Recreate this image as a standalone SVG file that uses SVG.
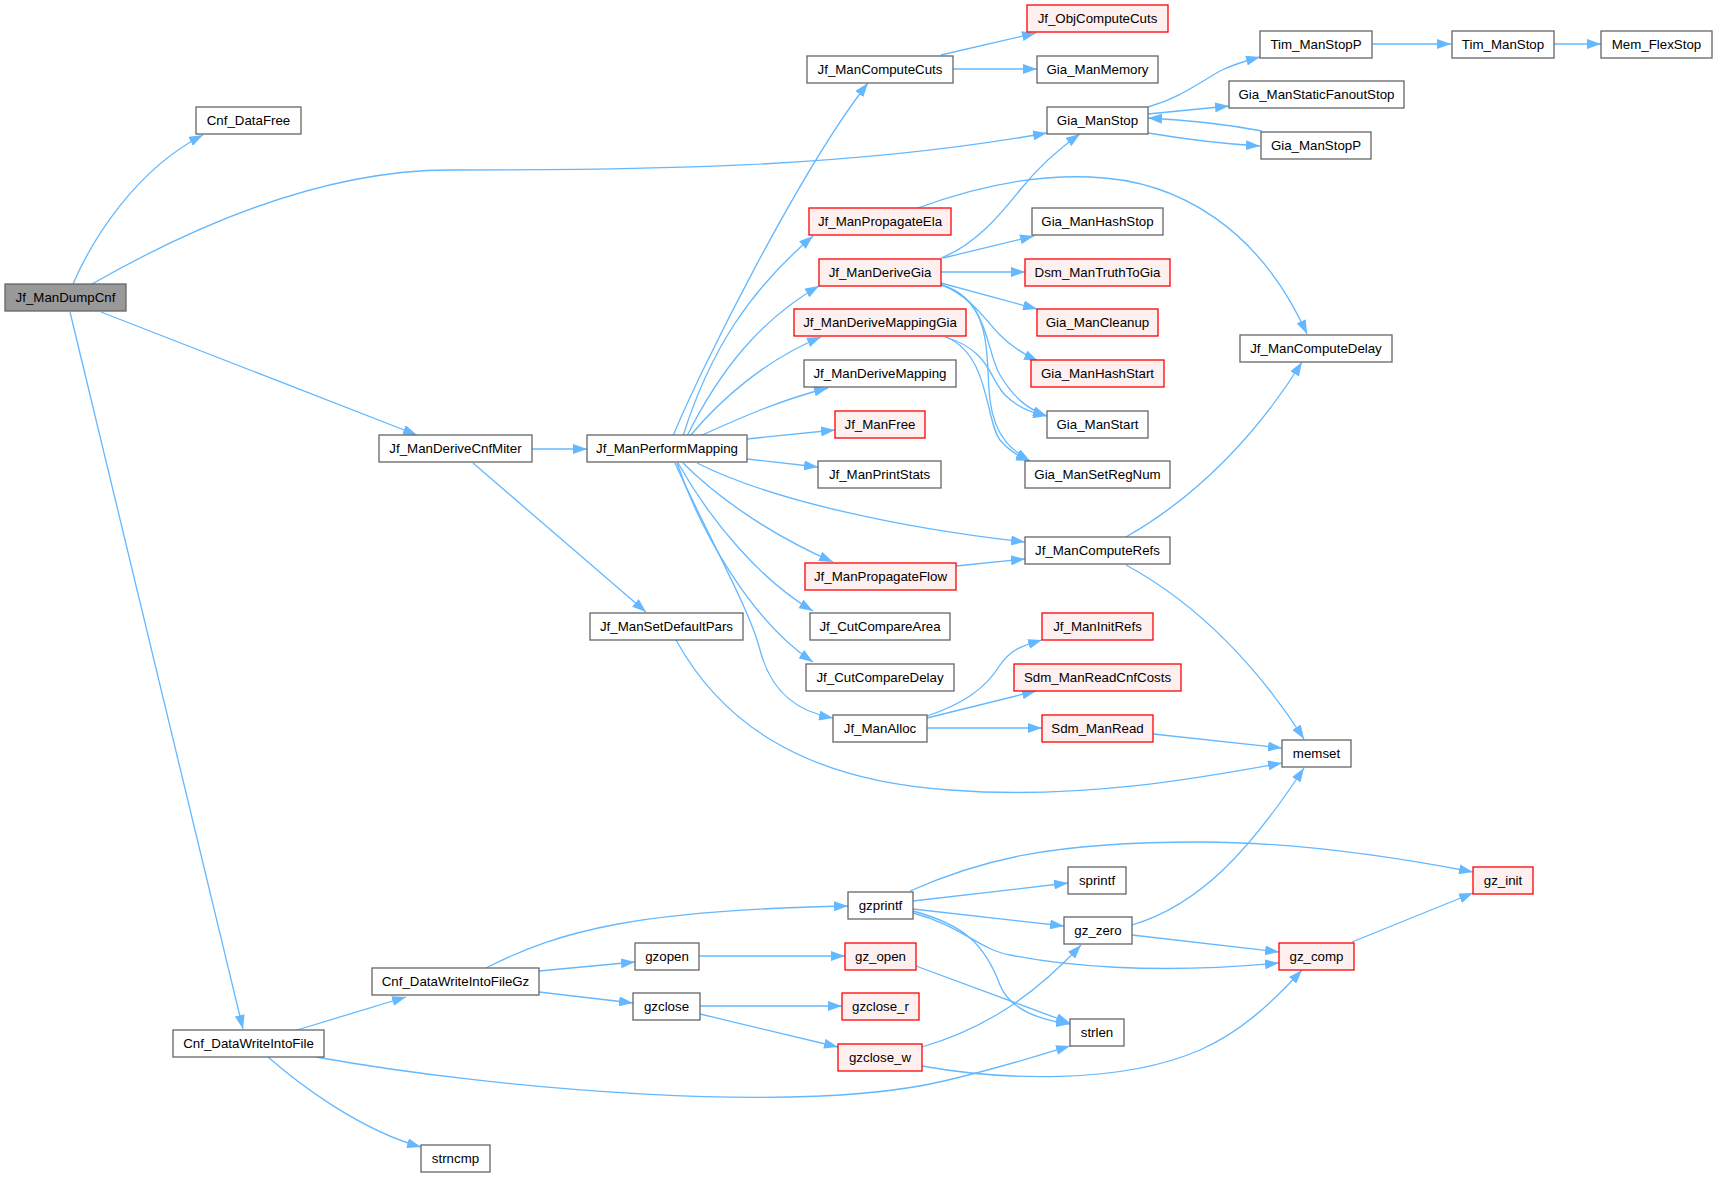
<svg xmlns="http://www.w3.org/2000/svg" width="1717" height="1177" viewBox="0 0 1717 1177">
<defs>
<marker id="ah" markerUnits="userSpaceOnUse" markerWidth="14" markerHeight="10" viewBox="0 0 14 10" refX="14" refY="5" orient="auto">
<path d="M0,0 L14,5 L0,10 z" fill="#63b8ff"/>
</marker>
<style>
.n rect{fill:#ffffff;stroke:#666666;stroke-width:1.3}
.r rect{fill:#fff0f0;stroke:#ff0000;stroke-width:1.3}
.root rect{fill:#999999;stroke:#666666;stroke-width:1.3}
text{font-family:"Liberation Sans",Arial,sans-serif;font-size:13.3px;fill:#000;text-anchor:middle}
#edges path{fill:none;stroke:#63b8ff;stroke-width:1.3;marker-end:url(#ah)}
</style>
</defs>
<rect x="0" y="0" width="1717" height="1177" fill="#ffffff"/>
<g id="edges">
<path d="M73,284 C92,240 135,170 203,135"/>
<path d="M92,284 C190,228 320,170 450,170 C650,170 850,168 1047,133"/>
<path d="M101,312 L417,435"/>
<path d="M70,312 L243,1029"/>
<path d="M532,449 L587,449"/>
<path d="M473,463 L646,612"/>
<path d="M673,436 C700,370 800,170 868,83"/>
<path d="M683,436 C710,350 750,290 813,236"/>
<path d="M687,436 C720,370 760,320 819,286"/>
<path d="M690,436 C720,400 765,360 821,337"/>
<path d="M700,436 C740,418 780,400 828,388"/>
<path d="M747,439 L835,430"/>
<path d="M747,459 L818,467"/>
<path d="M697,463 C770,500 900,528 1025,542"/>
<path d="M683,463 C710,490 760,530 833,562"/>
<path d="M678,463 C710,520 760,580 813,611"/>
<path d="M677,463 C700,530 750,620 813,662"/>
<path d="M675,463 C710,540 750,610 760,650 C772,695 800,712 833,718"/>
<path d="M941,55 L1036,33"/>
<path d="M953,69 L1037,69"/>
<path d="M1148,107 C1180,98 1200,82 1222,70 C1235,64 1245,61 1260,57"/>
<path d="M1148,114 L1229,106"/>
<path d="M1148,133 C1190,140 1225,144 1260,146"/>
<path d="M1262,131 C1230,125 1190,120 1148,118"/>
<path d="M1372,44 L1451,44"/>
<path d="M1554,44 L1601,44"/>
<path d="M918,208 C980,185 1040,175 1090,177 C1180,180 1260,230 1307,334"/>
<path d="M941,258 C975,245 1000,215 1020,190 C1040,165 1060,148 1080,134"/>
<path d="M943,258 L1034,236"/>
<path d="M941,272 L1025,272"/>
<path d="M941,283 L1037,309"/>
<path d="M941,284 C975,300 985,320 1000,335 C1012,347 1025,355 1038,361"/>
<path d="M941,285 C990,300 985,350 1000,375 C1015,400 1030,410 1047,416"/>
<path d="M945,337 C990,350 990,380 1005,395 C1018,408 1032,413 1047,416"/>
<path d="M941,285 C995,300 985,360 990,400 C995,440 1015,452 1030,461"/>
<path d="M946,337 C990,355 985,420 1000,440 C1010,452 1020,457 1030,461"/>
<path d="M1126,537 C1200,495 1260,430 1302,362"/>
<path d="M1126,565 C1200,605 1260,670 1304,739"/>
<path d="M956,566 L1025,559"/>
<path d="M676,640 C720,720 800,780 950,790 C1080,800 1200,778 1282,763"/>
<path d="M927,716 C960,705 985,690 1000,665 C1012,648 1025,645 1042,640"/>
<path d="M927,718 L1036,691"/>
<path d="M927,728 L1042,728"/>
<path d="M1153,734 L1282,748"/>
<path d="M297,1030 L406,997"/>
<path d="M316,1057 C500,1090 800,1115 944,1081 C1000,1068 1040,1055 1070,1046"/>
<path d="M268,1057 C300,1085 360,1130 421,1147"/>
<path d="M486,968 C560,930 640,910 848,906"/>
<path d="M539,971 L635,962"/>
<path d="M539,992 L633,1003"/>
<path d="M910,891 C980,860 1050,842 1200,842 C1300,842 1400,858 1473,872"/>
<path d="M913,901 L1068,883"/>
<path d="M913,909 L1064,926"/>
<path d="M913,913 C960,925 980,950 1010,955 C1060,965 1150,975 1279,963"/>
<path d="M913,911 C965,925 985,945 1000,985 C1010,1010 1040,1020 1070,1024"/>
<path d="M699,956 L845,956"/>
<path d="M916,966 L1070,1023"/>
<path d="M700,1006 L842,1006"/>
<path d="M700,1014 L838,1047"/>
<path d="M922,1047 C980,1030 1030,1000 1081,945"/>
<path d="M922,1066 C1000,1080 1120,1085 1200,1050 C1240,1032 1270,1005 1302,970"/>
<path d="M1132,925 C1200,905 1250,850 1304,768"/>
<path d="M1132,935 L1279,952"/>
<path d="M1352,942 L1473,893"/>
</g>
<g id="n_Jf_ManDumpCnf" class="root"><rect x="5" y="284" width="121" height="27"/><text x="65.5" y="302.2">Jf_ManDumpCnf</text></g>
<g id="n_Cnf_DataFree" class="n"><rect x="196" y="107" width="105" height="27"/><text x="248.5" y="125.2">Cnf_DataFree</text></g>
<g id="n_Jf_ManDeriveCnfMiter" class="n"><rect x="379" y="435" width="153" height="27"/><text x="455.5" y="453.2">Jf_ManDeriveCnfMiter</text></g>
<g id="n_Jf_ManPerformMapping" class="n"><rect x="587" y="435" width="160" height="27"/><text x="667" y="453.2">Jf_ManPerformMapping</text></g>
<g id="n_Jf_ManSetDefaultPars" class="n"><rect x="590" y="613" width="153" height="27"/><text x="666.5" y="631.2">Jf_ManSetDefaultPars</text></g>
<g id="n_Jf_ManComputeCuts" class="n"><rect x="807" y="56" width="146" height="27"/><text x="880" y="74.2">Jf_ManComputeCuts</text></g>
<g id="n_Jf_ObjComputeCuts" class="r"><rect x="1027" y="5" width="141" height="27"/><text x="1097.5" y="23.2">Jf_ObjComputeCuts</text></g>
<g id="n_Gia_ManMemory" class="n"><rect x="1037" y="56" width="121" height="27"/><text x="1097.5" y="74.2">Gia_ManMemory</text></g>
<g id="n_Gia_ManStop" class="n"><rect x="1047" y="107" width="101" height="27"/><text x="1097.5" y="125.2">Gia_ManStop</text></g>
<g id="n_Tim_ManStopP" class="n"><rect x="1260" y="31" width="112" height="27"/><text x="1316" y="49.2">Tim_ManStopP</text></g>
<g id="n_Tim_ManStop" class="n"><rect x="1452" y="31" width="102" height="27"/><text x="1503" y="49.2">Tim_ManStop</text></g>
<g id="n_Mem_FlexStop" class="n"><rect x="1601" y="31" width="111" height="27"/><text x="1656.5" y="49.2">Mem_FlexStop</text></g>
<g id="n_Gia_ManStaticFanoutStop" class="n"><rect x="1229" y="81" width="175" height="27"/><text x="1316.5" y="99.2">Gia_ManStaticFanoutStop</text></g>
<g id="n_Gia_ManStopP" class="n"><rect x="1261" y="132" width="110" height="27"/><text x="1316" y="150.2">Gia_ManStopP</text></g>
<g id="n_Jf_ManPropagateEla" class="r"><rect x="809" y="208" width="142" height="27"/><text x="880" y="226.2">Jf_ManPropagateEla</text></g>
<g id="n_Gia_ManHashStop" class="n"><rect x="1032" y="208" width="131" height="27"/><text x="1097.5" y="226.2">Gia_ManHashStop</text></g>
<g id="n_Jf_ManDeriveGia" class="r"><rect x="819" y="259" width="122" height="27"/><text x="880" y="277.2">Jf_ManDeriveGia</text></g>
<g id="n_Dsm_ManTruthToGia" class="r"><rect x="1025" y="259" width="145" height="27"/><text x="1097.5" y="277.2">Dsm_ManTruthToGia</text></g>
<g id="n_Jf_ManDeriveMappingGia" class="r"><rect x="794" y="309" width="172" height="27"/><text x="880" y="327.2">Jf_ManDeriveMappingGia</text></g>
<g id="n_Gia_ManCleanup" class="r"><rect x="1037" y="309" width="121" height="27"/><text x="1097.5" y="327.2">Gia_ManCleanup</text></g>
<g id="n_Jf_ManComputeDelay" class="n"><rect x="1240" y="335" width="152" height="27"/><text x="1316" y="353.2">Jf_ManComputeDelay</text></g>
<g id="n_Jf_ManDeriveMapping" class="n"><rect x="804" y="360" width="152" height="27"/><text x="880" y="378.2">Jf_ManDeriveMapping</text></g>
<g id="n_Gia_ManHashStart" class="r"><rect x="1031" y="360" width="133" height="27"/><text x="1097.5" y="378.2">Gia_ManHashStart</text></g>
<g id="n_Jf_ManFree" class="r"><rect x="835" y="411" width="90" height="27"/><text x="880" y="429.2">Jf_ManFree</text></g>
<g id="n_Gia_ManStart" class="n"><rect x="1047" y="411" width="101" height="27"/><text x="1097.5" y="429.2">Gia_ManStart</text></g>
<g id="n_Jf_ManPrintStats" class="n"><rect x="818" y="461" width="123" height="27"/><text x="879.5" y="479.2">Jf_ManPrintStats</text></g>
<g id="n_Gia_ManSetRegNum" class="n"><rect x="1025" y="461" width="145" height="27"/><text x="1097.5" y="479.2">Gia_ManSetRegNum</text></g>
<g id="n_Jf_ManComputeRefs" class="n"><rect x="1025" y="537" width="145" height="27"/><text x="1097.5" y="555.2">Jf_ManComputeRefs</text></g>
<g id="n_Jf_ManPropagateFlow" class="r"><rect x="805" y="563" width="151" height="27"/><text x="880.5" y="581.2">Jf_ManPropagateFlow</text></g>
<g id="n_Jf_CutCompareArea" class="n"><rect x="810" y="613" width="140" height="27"/><text x="880" y="631.2">Jf_CutCompareArea</text></g>
<g id="n_Jf_ManInitRefs" class="r"><rect x="1042" y="613" width="111" height="27"/><text x="1097.5" y="631.2">Jf_ManInitRefs</text></g>
<g id="n_Jf_CutCompareDelay" class="n"><rect x="806" y="664" width="148" height="27"/><text x="880" y="682.2">Jf_CutCompareDelay</text></g>
<g id="n_Sdm_ManReadCnfCosts" class="r"><rect x="1014" y="664" width="167" height="27"/><text x="1097.5" y="682.2">Sdm_ManReadCnfCosts</text></g>
<g id="n_Jf_ManAlloc" class="n"><rect x="833" y="715" width="94" height="27"/><text x="880" y="733.2">Jf_ManAlloc</text></g>
<g id="n_Sdm_ManRead" class="r"><rect x="1042" y="715" width="111" height="27"/><text x="1097.5" y="733.2">Sdm_ManRead</text></g>
<g id="n_memset" class="n"><rect x="1282" y="740" width="69" height="27"/><text x="1316.5" y="758.2">memset</text></g>
<g id="n_gzprintf" class="n"><rect x="848" y="892" width="65" height="27"/><text x="880.5" y="910.2">gzprintf</text></g>
<g id="n_sprintf" class="n"><rect x="1068" y="867" width="58" height="27"/><text x="1097" y="885.2">sprintf</text></g>
<g id="n_gz_zero" class="n"><rect x="1064" y="917" width="68" height="27"/><text x="1098" y="935.2">gz_zero</text></g>
<g id="n_gz_init" class="r"><rect x="1473" y="867" width="60" height="27"/><text x="1503" y="885.2">gz_init</text></g>
<g id="n_gz_comp" class="r"><rect x="1279" y="943" width="75" height="27"/><text x="1316.5" y="961.2">gz_comp</text></g>
<g id="n_gzopen" class="n"><rect x="635" y="943" width="64" height="27"/><text x="667" y="961.2">gzopen</text></g>
<g id="n_gz_open" class="r"><rect x="845" y="943" width="71" height="27"/><text x="880.5" y="961.2">gz_open</text></g>
<g id="n_Cnf_DataWriteIntoFileGz" class="n"><rect x="372" y="968" width="167" height="27"/><text x="455.5" y="986.2">Cnf_DataWriteIntoFileGz</text></g>
<g id="n_gzclose" class="n"><rect x="633" y="993" width="67" height="27"/><text x="666.5" y="1011.2">gzclose</text></g>
<g id="n_gzclose_r" class="r"><rect x="842" y="993" width="77" height="27"/><text x="880.5" y="1011.2">gzclose_r</text></g>
<g id="n_strlen" class="n"><rect x="1070" y="1019" width="54" height="27"/><text x="1097" y="1037.2">strlen</text></g>
<g id="n_Cnf_DataWriteIntoFile" class="n"><rect x="173" y="1030" width="151" height="27"/><text x="248.5" y="1048.2">Cnf_DataWriteIntoFile</text></g>
<g id="n_gzclose_w" class="r"><rect x="838" y="1044" width="84" height="27"/><text x="880" y="1062.2">gzclose_w</text></g>
<g id="n_strncmp" class="n"><rect x="421" y="1145" width="69" height="27"/><text x="455.5" y="1163.2">strncmp</text></g>
</svg>
